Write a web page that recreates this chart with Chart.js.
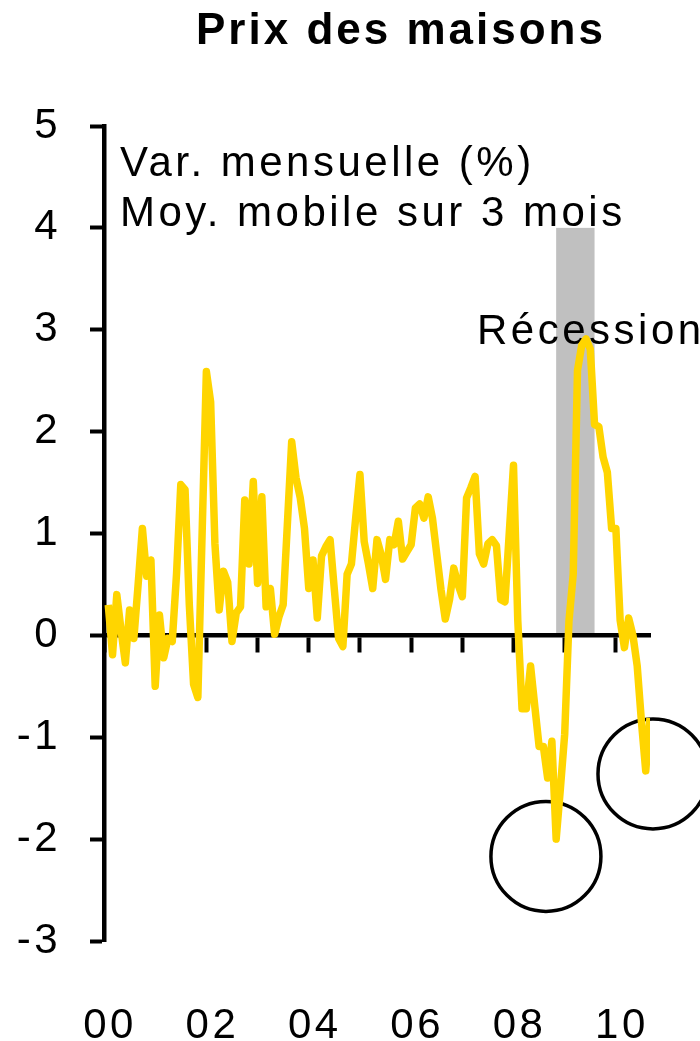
<!DOCTYPE html>
<html lang="fr">
<head>
<meta charset="utf-8">
<title>Prix des maisons</title>
<script src="https://cdn.jsdelivr.net/npm/chart.js@4/dist/chart.umd.min.js"></script>
<style>
  body { margin: 0; background: #fff; }
  #cadre { width: 700px; height: 1041px; position: relative; }
</style>
</head>
<body>
<div id="cadre"><canvas id="graphique"></canvas></div>
<script>
// variation mensuelle (%), moyenne mobile sur 3 mois, de février 2000 à septembre 2010
const variation = [
  0.30, -0.19, 0.40, 0.05, -0.27, 0.25, -0.03, 0.50, 1.05, 0.58, 0.74, -0.50,
  0.20, -0.22, -0.03, -0.06, 0.60, 1.48, 1.43, 0.30, -0.48, -0.61, 1.00, 2.59,
  2.29, 0.90, 0.25, 0.63, 0.52, -0.06, 0.22, 0.28, 1.33, 0.70, 1.51, 0.51,
  1.36, 0.28, 0.46, 0.01, 0.18, 0.30, 1.10, 1.90, 1.55, 1.35, 1.05, 0.46,
  0.74, 0.17, 0.78, 0.87, 0.94, 0.45, -0.03, -0.11, 0.60, 0.70, 1.15, 1.58,
  0.92, 0.70, 0.46, 0.94, 0.79, 0.55, 0.94, 0.89, 1.12, 0.75, 0.82, 0.89,
  1.25, 1.29, 1.15, 1.36, 1.15, 0.80, 0.45, 0.16, 0.35, 0.66, 0.50, 0.38,
  1.35, 1.45, 1.56, 0.80, 0.70, 0.90, 0.94, 0.88, 0.35, 0.33, 1.00, 1.67,
  0.15, -0.72, -0.72, -0.30, -0.70, -1.09, -1.09, -1.40, -1.04, -2.00, -1.50, -0.97,
  0.14, 0.60, 2.60, 2.85, 2.91, 2.81, 2.07, 2.05, 1.75, 1.60, 1.05, 1.05,
  0.15, -0.12, 0.17, 0.00, -0.30, -0.85, -1.33, -0.81
];
const premierMois = 1; // mois compté depuis janvier 2000
const etiquettesX = ['00', '02', '04', '06', '08', '10'];
const recession = [106, 115]; // nov. 2008 -> août 2009, en mois depuis janv. 2000
const cercles = [
  { x: 103.6, y: -2.17 },
  { x: 128.7, y: -1.36 }
];

const police = 'Liberation Sans, Arial, sans-serif';
const ESPACE = '3.5px';

Chart.defaults.font.family = police;
Chart.defaults.font.size = 42;
Chart.defaults.color = '#000';

const annotations = {
  id: 'annotations',
  beforeUpdate(chart) {
    chart.ctx.letterSpacing = ESPACE;
  },
  beforeDraw(chart) {
    const ctx = chart.ctx;
    ctx.letterSpacing = ESPACE;
    const x = chart.scales.x, y = chart.scales.y;
    // bande de récession
    ctx.save();
    ctx.fillStyle = '#c0c0c0';
    const x1 = x.getPixelForValue(recession[0]);
    const x2 = x.getPixelForValue(recession[1]);
    const yHaut = y.getPixelForValue(4);
    const yBas = y.getPixelForValue(0);
    ctx.fillRect(x1, yHaut, x2 - x1, yBas - yHaut);
    ctx.restore();
  },
  beforeDatasetsDraw(chart) {
    const ctx = chart.ctx;
    const x = chart.scales.x, y = chart.scales.y;
    ctx.save();
    ctx.letterSpacing = ESPACE;
    ctx.fillStyle = '#000';
    ctx.textAlign = 'left';
    ctx.textBaseline = 'alphabetic';
    ctx.font = '42px ' + police;
    ctx.fillText('Var. mensuelle (%)', 120, 176);
    ctx.fillText('Moy. mobile sur 3 mois', 120, 226);
    ctx.fillText('Récession', 477, 344);

    ctx.letterSpacing = '3px';
    ctx.font = 'bold 44px ' + police;
    ctx.fillText('Prix des maisons', 196, 44);

    // cercles
    ctx.strokeStyle = '#000';
    ctx.lineWidth = 3.5;
    cercles.forEach(c => {
      ctx.beginPath();
      ctx.arc(x.getPixelForValue(c.x), y.getPixelForValue(c.y), 55, 0, Math.PI * 2);
      ctx.stroke();
    });
    ctx.restore();
  }
};

const ctx = document.getElementById('graphique');

new Chart(ctx, {
  type: 'line',
  data: {
    datasets: [{
      data: variation.map((v, i) => ({ x: premierMois + i, y: v })),
      borderColor: '#ffd500',
      borderWidth: 7.5,
      borderJoinStyle: 'round',
      pointRadius: 0,
      tension: 0,
      xAxisID: 'x',
      yAxisID: 'y'
    }]
  },
  options: {
    responsive: true,
    maintainAspectRatio: false,
    animation: false,
    layout: { padding: { top: 126, right: 50, left: 0, bottom: 0 } },
    plugins: {
      legend: { display: false },
      tooltip: { enabled: false },
      title: { display: false }
    },
    scales: {
      x: {
        type: 'linear',
        position: 'bottom',
        min: 0,
        max: 128,
        border: { display: false },
        // tickLength sert seulement à descendre les étiquettes, la grille n'est pas dessinée
        grid: { display: false, drawTicks: true, tickLength: 56 },
        ticks: {
          stepSize: 24,
          includeBounds: false,
          autoSkip: false,
          maxRotation: 0,
          padding: 4,
          labelOffset: 6,
          callback: v => etiquettesX[v / 24]
        },
        afterFit(scale) { scale.height = 100; }
      },
      xZero: {
        type: 'linear',
        axis: 'x',
        position: { y: 0 },
        min: 0,
        max: 128,
        border: { display: true, color: '#000', width: 4.5 },
        grid: { drawOnChartArea: false, drawTicks: true, tickLength: 15, tickWidth: 4, tickColor: '#000' },
        ticks: { display: false, stepSize: 12, includeBounds: false, maxTicksLimit: 20 }
      },
      y: {
        type: 'linear',
        position: 'left',
        min: -3,
        max: 5,
        border: { display: true, color: '#000', width: 4.5 },
        grid: { drawOnChartArea: false, drawTicks: true, tickLength: 14, tickWidth: 4, tickColor: '#000' },
        ticks: { stepSize: 1, padding: 29 },
        afterFit(scale) { scale.width = 104; }
      }
    }
  },
  plugins: [annotations]
});
</script>
</body>
</html>
